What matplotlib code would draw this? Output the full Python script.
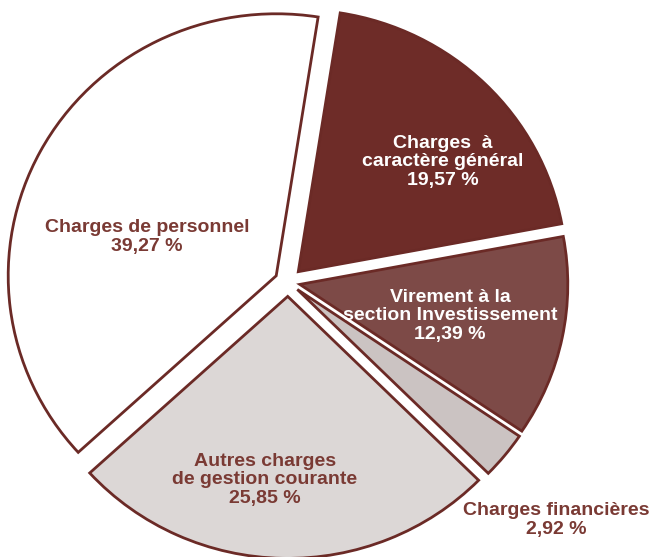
import matplotlib.pyplot as plt

# --- Data ---
labels = [
    "Charges  à\ncaractère général",
    "Virement à la\nsection Investissement",
    "Charges financières",
    "Autres charges\nde gestion courante",
    "Charges de personnel",
]
shares = [19.57, 12.39, 2.92, 25.85, 39.27]

# --- Style / layout ---
EDGE = "#6b2a26"
BROWN_TXT = "#7a3a34"
fills = ["#6e2c28", "#7d4a47", "#cbc3c2", "#dcd7d6", "#ffffff"]
txt_colors = ["white", "white", BROWN_TXT, BROWN_TXT, BROWN_TXT]
explode = [0.055, 0.045, 0.045, 0.055, 0.05]

PX_X, PX_Y = 268, 262  # pixels per data unit (scan is a bit wider than tall)
CX, CY = 288, 282      # pie centre in pixels from top-left
# label centres in pixels from top-left
label_px = [(443, 162), (450, 316), (556, 520), (265, 480), (147, 237)]

plt.rcParams["font.family"] = ["Liberation Sans", "DejaVu Sans"]

fig = plt.figure(figsize=(6.5, 5.57), dpi=100)
ax = fig.add_axes([0, 0, 1, 1])

wedges, _ = ax.pie(
    shares,
    explode=explode,
    colors=fills,
    startangle=81,
    counterclock=False,
    radius=1.0,
    wedgeprops=dict(edgecolor=EDGE, linewidth=2.0, joinstyle="miter"),
)

for lab, val, (px, py), c in zip(labels, shares, label_px, txt_colors):
    txt = f"{lab}\n{val:.2f} %".replace(".", ",")
    ax.text((px - CX) / PX_X, (CY - py) / PX_Y, txt, ha="center", va="center",
            color=c, fontsize=14, fontweight="bold", linespacing=1.12)

ax.set_aspect("auto")
ax.set_xlim(-CX / PX_X, (650 - CX) / PX_X)
ax.set_ylim(-(557 - CY) / PX_Y, CY / PX_Y)
ax.axis("off")

fig.savefig("out.png", dpi=100)
